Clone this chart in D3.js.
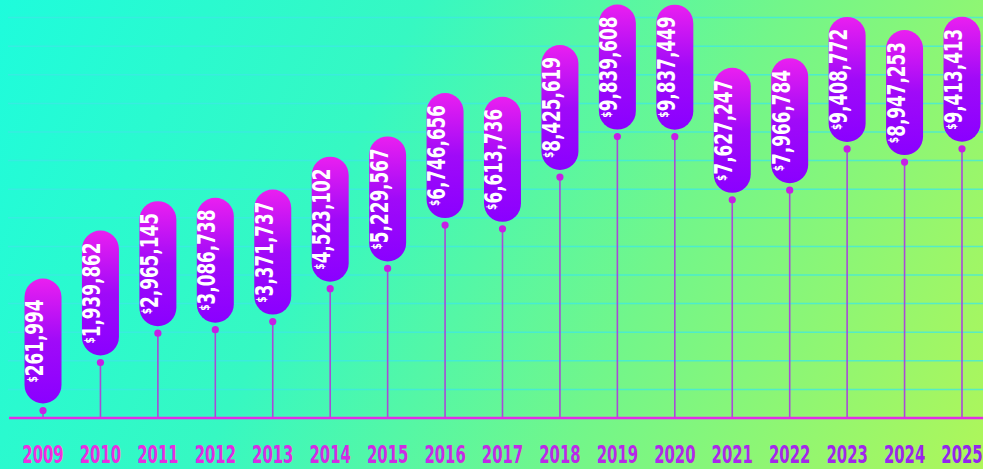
<!DOCTYPE html>
<html>
<head>
<meta charset="utf-8">
<script src="https://cdn.jsdelivr.net/npm/d3@7"></script>
<style>
  html, body { margin: 0; padding: 0; overflow: hidden; }
  svg { display: block; }
</style>
</head>
<body>
<div id="chart"></div>
<script>
var years = ["2009", "2010", "2011", "2012", "2013", "2014", "2015", "2016", "2017",
             "2018", "2019", "2020", "2021", "2022", "2023", "2024", "2025"];
var revenue = [261994, 1939862, 2965145, 3086738, 3371737, 4523102, 5229567, 6746656, 6613736,
               8425619, 9839608, 9837449, 7627247, 7966784, 9408772, 8947253, 9413413];
var gridTicks = [1e6, 2e6, 3e6, 4e6, 5e6, 6e6, 7e6, 8e6, 9e6, 10e6, 11e6, 12e6, 13e6, 14e6];

var width = 983,
    height = 469,
    baseY = 418,
    pillW = 37,
    pillH = 125,
    narrow = "'DejaVu Sans Condensed', 'Liberation Sans Narrow', sans-serif";

var data = years.map(function(y, i) { return { year: y, value: revenue[i] }; });

var xScale = d3.scalePoint().domain(years).range([43, 962]);
var yScale = d3.scaleLinear().domain([0, 10e6]).range([baseY, 132]);
var fmt = d3.format(",");

var svg = d3.select("#chart").append("svg")
    .attr("width", width)
    .attr("height", height);

var defs = svg.append("defs");

// background gradient, cyan top-left to lime bottom-right
var bg = defs.append("linearGradient")
    .attr("id", "bg")
    .attr("gradientUnits", "userSpaceOnUse")
    .attr("x1", 0).attr("y1", 0)
    .attr("x2", width).attr("y2", height);
bg.append("stop").attr("offset", "0%").attr("stop-color", "#1efcdc");
bg.append("stop").attr("offset", "35%").attr("stop-color", "#36f8c2");
bg.append("stop").attr("offset", "65%").attr("stop-color", "#72f68a");
bg.append("stop").attr("offset", "100%").attr("stop-color", "#aef65a");

var pillGrad = defs.append("linearGradient")
    .attr("id", "pill")
    .attr("x1", 0).attr("y1", 0)
    .attr("x2", 0).attr("y2", 1);
pillGrad.append("stop").attr("offset", "0%").attr("stop-color", "#ea1ff0");
pillGrad.append("stop").attr("offset", "50%").attr("stop-color", "#a00af8");
pillGrad.append("stop").attr("offset", "100%").attr("stop-color", "#8a00ff");

svg.append("rect")
    .attr("width", width)
    .attr("height", height)
    .attr("fill", "url(#bg)");

// horizontal grid
svg.append("g")
    .selectAll("line")
    .data(gridTicks)
    .enter().append("line")
    .attr("x1", 8)
    .attr("x2", width)
    .attr("y1", function(d) { return yScale(d); })
    .attr("y2", function(d) { return yScale(d); })
    .attr("stroke", "#3ee8e4")
    .attr("stroke-opacity", 0.75)
    .attr("stroke-width", 1.5);

// stems
svg.append("g")
    .selectAll("line")
    .data(data)
    .enter().append("line")
    .attr("x1", function(d) { return xScale(d.year); })
    .attr("x2", function(d) { return xScale(d.year); })
    .attr("y1", function(d) { return yScale(d.value); })
    .attr("y2", baseY)
    .attr("stroke", "#a84ad8")
    .attr("stroke-width", 1.6);

// baseline
svg.append("line")
    .attr("x1", 9)
    .attr("x2", width)
    .attr("y1", baseY)
    .attr("y2", baseY)
    .attr("stroke", "#e22ce6")
    .attr("stroke-width", 2.5);

// dots
svg.append("g")
    .selectAll("circle")
    .data(data)
    .enter().append("circle")
    .attr("cx", function(d) { return xScale(d.year); })
    .attr("cy", function(d) { return yScale(d.value); })
    .attr("r", 3.6)
    .attr("fill", "#c61ee6");

// pills with rotated value labels
var pill = svg.append("g")
    .selectAll("g")
    .data(data)
    .enter().append("g")
    .attr("transform", function(d) {
        return "translate(" + xScale(d.year) + "," + (yScale(d.value) - 7 - pillH / 2) + ")";
    });

pill.append("rect")
    .attr("x", -pillW / 2)
    .attr("y", -pillH / 2)
    .attr("width", pillW)
    .attr("height", pillH)
    .attr("rx", pillW / 2)
    .attr("fill", "url(#pill)");

var label = pill.append("text")
    .attr("transform", "rotate(-90) scale(0.78,1)")
    .attr("text-anchor", "middle")
    .attr("dy", "0.36em")
    .attr("fill", "#ffffff")
    .style("font-family", narrow)
    .style("font-weight", "bold")
    .style("font-size", "24px");

label.append("tspan")
    .attr("font-size", "13px")
    .attr("dy", "-0.5em")
    .text("$");

label.append("tspan")
    .attr("dy", "0.27em")
    .text(function(d) { return fmt(d.value); });

// year labels, colour shifts from magenta to violet
var yearColor = d3.interpolateRgb("#f02ee0", "#9424ee");

svg.append("g")
    .selectAll("text")
    .data(data)
    .enter().append("text")
    .attr("transform", function(d) {
        return "translate(" + xScale(d.year) + ",463) scale(0.66,1)";
    })
    .attr("text-anchor", "middle")
    .attr("fill", function(d, i) { return yearColor(i / (years.length - 1)); })
    .style("font-family", narrow)
    .style("font-weight", "bold")
    .style("font-size", "25px")
    .text(function(d) { return d.year; });
</script>
</body>
</html>
